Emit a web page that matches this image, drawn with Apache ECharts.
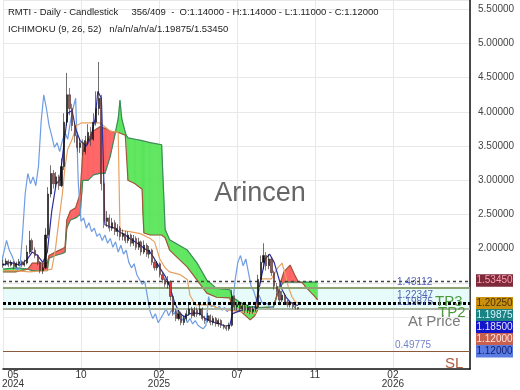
<!DOCTYPE html>
<html>
<head>
<meta charset="utf-8">
<script src="https://cdn.jsdelivr.net/npm/echarts@6.0.0/dist/echarts.min.js"></script>
<style>
html,body{margin:0;padding:0;background:#ffffff;}
#chart{width:520px;height:390px;}
</style>
</head>
<body>
<div id="chart"></div>
<script>
// ================= DATA =================
const SESSION_STEP = 3;   // one candle drawn every 3 sessions
const CHIKOU_SHIFT = 26;  // lagging span shift (sessions)

// [open, close, low, high]
const candles = [
[1.76,1.78,1.72,1.84],[1.78,1.82,1.75,1.86],[1.82,1.76,1.73,1.84],[1.76,1.80,1.74,1.83],
[1.80,1.74,1.70,1.82],[1.74,1.78,1.72,1.81],[1.78,1.81,1.75,1.85],[1.81,1.76,1.73,1.83],
[1.76,1.79,1.74,1.84],[1.79,1.95,1.77,2.05],[1.95,2.12,1.92,2.26],[2.12,1.98,1.94,2.15],
[1.98,1.90,1.86,2.02],[1.90,1.80,1.76,1.92],[1.80,1.68,1.64,1.82],[1.68,1.72,1.63,1.78],
[1.72,2.20,1.70,2.30],[2.20,2.80,2.15,2.90],[2.80,3.10,2.75,3.22],[3.10,2.95,2.88,3.15],
[2.95,3.05,2.90,3.12],[3.05,2.92,2.86,3.08],[2.92,3.20,2.90,3.32],[3.20,3.85,3.15,3.98],
[3.85,4.25,3.80,4.57],[4.25,4.05,3.95,4.35],[4.05,3.80,3.72,4.12],[3.80,3.65,3.55,3.85],
[3.65,3.48,3.42,3.70],[3.48,3.55,3.40,3.62],[3.55,3.42,3.36,3.60],[3.42,3.58,3.38,3.65],
[3.58,3.70,3.52,3.82],[3.70,3.60,3.50,3.78],[3.60,3.85,3.58,3.98],[3.85,4.05,3.80,4.30],
[4.05,4.20,3.95,4.73],[4.20,2.95,2.85,4.25],[2.95,2.40,2.30,3.00],[2.40,2.45,2.32,2.55],
[2.45,2.30,2.25,2.50],[2.30,2.38,2.26,2.45],[2.38,2.25,2.20,2.42],[2.25,2.30,2.18,2.36],
[2.30,2.18,2.12,2.33],[2.18,2.22,2.12,2.28],[2.22,2.12,2.08,2.26],[2.12,2.20,2.08,2.25],
[2.20,2.08,2.03,2.22],[2.08,2.15,2.04,2.20],[2.15,2.02,1.98,2.18],[2.02,2.10,1.98,2.16],
[2.10,1.95,1.90,2.12],[1.95,2.05,1.92,2.12],[2.05,1.92,1.88,2.08],[1.92,1.98,1.86,2.04],
[1.98,1.80,1.76,2.00],[1.80,1.72,1.68,1.84],[1.72,1.78,1.68,1.82],[1.78,1.62,1.58,1.80],
[1.62,1.55,1.50,1.66],[1.55,1.48,1.44,1.58],[1.48,1.52,1.42,1.60],[1.52,1.30,1.24,1.54],
[1.30,1.08,1.02,1.32],[1.08,0.98,0.94,1.12],[0.98,1.05,0.95,1.10],[1.05,0.92,0.88,1.08],
[0.92,0.98,0.88,1.02],[0.98,1.05,0.95,1.10],[1.05,1.12,1.02,1.20],[1.12,1.02,0.98,1.15],
[1.02,1.10,1.00,1.15],[1.10,1.04,1.00,1.14],[1.04,1.12,1.02,1.18],[1.12,0.98,0.95,1.14],
[0.98,0.95,0.90,1.02],[0.95,1.02,0.92,1.06],[1.02,0.92,0.88,1.04],[0.92,0.98,0.88,1.02],
[0.98,0.90,0.86,1.00],[0.90,0.95,0.86,0.98],[0.95,0.88,0.84,0.97],[0.88,0.85,0.82,0.90],
[0.85,0.83,0.80,0.88],[0.83,0.88,0.80,0.92],[0.88,1.30,0.86,1.40],[1.30,1.15,1.10,1.32],
[1.15,1.18,1.10,1.22],[1.18,1.12,1.08,1.20],[1.12,1.16,1.09,1.20],[1.16,1.10,1.06,1.18],
[1.10,1.14,1.06,1.18],[1.14,1.08,1.04,1.16],[1.08,1.12,1.05,1.16],[1.12,1.15,1.08,1.20],
[1.15,1.55,1.12,1.62],[1.55,1.80,1.50,1.90],[1.80,1.90,1.70,2.08],[1.90,1.75,1.68,1.95],
[1.75,1.85,1.70,1.92],[1.85,1.65,1.60,1.88],[1.65,1.45,1.40,1.68],[1.45,1.38,1.32,1.50],
[1.38,1.25,1.20,1.40],[1.25,1.32,1.22,1.38],[1.32,1.22,1.18,1.35],[1.22,1.18,1.14,1.25],
[1.18,1.20,1.14,1.24],[1.20,1.15,1.12,1.22],[1.15,1.14,1.11,1.18],[1.14,1.12,1.11,1.14]
];

// [session, value]
const tenkan = [
[0,1.76],[8,1.80],[19,1.76],[27,1.84],[33,1.95],[39,1.90],[45,1.80],[50,1.95],[55,2.55],[60,2.95],
[64,3.00],[69,3.55],[73,3.98],[78,4.02],[82,3.75],[87,3.58],[94,3.50],[99,3.62],[104,3.90],[107,4.30],
[111,4.20],[113,3.40],[115,2.35],[121,2.32],[126,2.30],[132,2.24],[138,2.20],[143,2.15],[149,2.10],
[155,2.05],[160,2.00],[166,1.95],[171,1.85],[177,1.72],[183,1.60],[188,1.45],[194,1.20],[200,1.05],
[205,1.00],[211,1.05],[217,1.06],[222,1.05],[228,0.98],[233,0.95],[239,0.92],[245,0.90],[250,0.87],
[256,0.88],[259,1.05],[265,1.08],[273,1.12],[279,1.13],[284,1.12],[288,1.35],[291,1.55],[296,1.85],
[301,1.92],[306,1.80],[310,1.62],[315,1.40],[319,1.30],[324,1.22],[329,1.18],[333,1.17]
];

const kijun = [
[0,1.68],[14,1.68],[30,1.66],[47,1.68],[55,1.70],[59,1.98],[63,2.40],[67,2.80],[70,3.20],[73,3.45],
[78,3.60],[83,3.80],[89,3.84],[109,3.84],[121,3.72],[130,3.70],[132,2.27],[143,2.25],[155,2.22],
[166,2.15],[171,2.10],[177,1.85],[183,1.72],[188,1.66],[200,1.62],[208,1.55],[211,1.32],[217,1.18],
[233,1.18],[245,1.12],[267,1.08],[285,1.05],[288,1.45],[292,1.56],[303,1.56],[310,1.72],[315,1.79],
[319,1.60],[322,1.44],[326,1.30],[330,1.22],[333,1.21]
];

const senkouX = [0,14,28,33,50,52,59,67,70,72,76,82,87,90,96,102,109,115,121,126,130,132,134,138,139,141,
149,157,158,159,166,179,183,188,208,219,230,241,256,259,267,279,284,288,305,313,317,324,329,333,338,341,346,352,355];
const senkouA = [1.70,1.72,1.70,1.68,1.68,1.86,1.90,1.93,1.95,2.30,2.42,2.45,2.50,3.00,3.00,3.08,3.10,3.10,3.35,3.65,
3.90,4.17,3.90,3.70,3.66,3.62,3.60,3.58,3.57,3.56,3.55,3.52,2.28,2.13,1.98,1.79,1.54,1.42,1.40,1.29,
1.22,1.15,1.15,1.14,1.15,1.45,1.51,1.51,1.51,1.51,1.51,1.51,1.51,1.51,1.51];
const senkouB = [1.66,1.66,1.70,1.79,1.79,1.90,1.95,2.00,2.02,2.42,2.55,2.60,2.80,3.40,3.60,3.72,3.78,3.76,3.72,3.70,
3.70,3.70,3.68,3.66,3.64,3.00,2.95,2.87,2.50,2.23,2.20,2.20,2.16,1.98,1.73,1.54,1.35,1.29,1.28,1.10,
1.10,0.96,1.02,1.12,1.14,1.50,1.66,1.76,1.62,1.52,1.50,1.45,1.38,1.30,1.25];

const xTickSessions = [0, 88, 176, 264, 352, 440];
const xTickLabels = ['05\n2024', '10', '02\n2025', '07', '11', '02\n2026'];
const yLabelFrom = 2.0;

const levelCurrent = 1.5345;
const levelTP = 1.43112;
const levelMid = 1.22347;
const levelEntry = 1.19875;
const levelAt = 1.12;
const levelSL = 0.49775;
const priceTags = [1.5345, 1.2025, 1.19875, 1.185, 1.12, 1.12];

const titleLine1 = 'RMTI - Daily - Candlestick     356/409  -  O:1.14000 - H:1.14000 - L:1.11000 - C:1.12000';
const titleLine2 = 'ICHIMOKU (9, 26, 52)   n/a/n/a/n/a/1.19875/1.53450';
const watermark = 'Arincen';

// ================= CHART =================
const FONT = '"Liberation Sans", Arial, Helvetica, sans-serif';
const TICK = xTickSessions[1] - xTickSessions[0];
const chart = echarts.init(document.getElementById('chart'), null, {renderer: 'canvas'});

const candleData = candles.map((c, i) => [i * SESSION_STEP, c[0], c[1], c[2], c[3]]);
const chikou = candles.map((c, i) => [i * SESSION_STEP - CHIKOU_SHIFT, c[1]]);
const cloudSegs = [];
for (let i = 0; i < senkouX.length - 1; i++) {
  cloudSegs.push([senkouX[i], senkouA[i], senkouB[i], senkouX[i + 1], senkouA[i + 1], senkouB[i + 1]]);
}
const GREEN = 'rgba(82,228,82,0.9)';
const RED = 'rgba(255,88,88,0.9)';

const option = {
  animation: false,
  backgroundColor: '#ffffff',
  grid: {left: 3, right: 50, top: 0, bottom: 21, containLabel: false, outerBoundsMode: 'none'},
  xAxis: {
    type: 'value', min: 0, max: 527, minInterval: TICK, maxInterval: TICK,
    axisLine: {show: true, onZero: false, lineStyle: {color: '#111', width: 1.5}},
    axisTick: {show: false},
    splitLine: {show: true, lineStyle: {color: '#e8e8e8', width: 1}},
    axisLabel: {
      margin: 2, fontSize: 10, color: '#333', fontFamily: FONT, lineHeight: 8.5,
      formatter: function (v) {
        const idx = xTickSessions.indexOf(Math.round(v));
        if (idx < 0 || Math.abs(v - Math.round(v)) > 1e-6) return '';
        const parts = xTickLabels[idx].split('\n');
        const key = idx === 0 ? 'f' : 'c';
        return parts.map(p => '{' + key + '|' + p + '}').join('\n');
      },
      rich: {
        c: {width: 22, align: 'center', fontSize: 10, color: '#333', fontFamily: FONT, lineHeight: 8.5},
        f: {width: 22, align: 'center', fontSize: 10, color: '#333', fontFamily: FONT, lineHeight: 8.5, padding: [0, 0, 0, 20]}
      }
    }
  },
  yAxis: {
    type: 'value', position: 'right', min: 0.241, max: 5.636, minInterval: 0.5, maxInterval: 0.5,
    axisLine: {show: true, onZero: false, lineStyle: {color: '#111', width: 1.5}},
    axisTick: {show: false},
    splitLine: {show: true, lineStyle: {color: '#e8e8e8', width: 1}},
    axisLabel: {
      margin: 8, fontSize: 10, color: '#444', fontFamily: FONT,
      formatter: function (v) {
        if (v < yLabelFrom - 1e-6) return '';
        if (Math.abs(v * 2 - Math.round(v * 2)) > 1e-6) return '';
        return v.toFixed(5);
      }
    }
  },
  series: [
    {
      name: 'cloud', type: 'custom', z: 1, silent: true,
      encode: {x: [0, 3], y: [1, 2, 4, 5]},
      data: cloudSegs,
      renderItem: function (params, api) {
        const x1 = api.value(0), a1 = api.value(1), b1 = api.value(2);
        const x2 = api.value(3), a2 = api.value(4), b2 = api.value(5);
        const d1 = a1 - b1, d2 = a2 - b2;
        const poly = (pts, col) => ({
          type: 'polygon',
          shape: {points: pts.map(p => api.coord(p))},
          style: {fill: col, stroke: col, lineWidth: 0.6}
        });
        if (d1 * d2 < 0) {
          const t = d1 / (d1 - d2);
          const xc = x1 + t * (x2 - x1), yc = a1 + t * (a2 - a1);
          return {type: 'group', children: [
            poly([[x1, a1], [xc, yc], [x1, b1]], d1 > 0 ? GREEN : RED),
            poly([[xc, yc], [x2, a2], [x2, b2]], d2 > 0 ? GREEN : RED)
          ]};
        }
        return poly([[x1, a1], [x2, a2], [x2, b2], [x1, b1]], (d1 + d2) >= 0 ? GREEN : RED);
      }
    },
    {name: 'senkouA', type: 'line', z: 2, symbol: 'none', silent: true,
     data: senkouX.map((x, i) => [x, senkouA[i]]), lineStyle: {color: '#3d8b5a', width: 1.2}},
    {name: 'senkouB', type: 'line', z: 2, symbol: 'none', silent: true,
     data: senkouX.map((x, i) => [x, senkouB[i]]), lineStyle: {color: '#a0583c', width: 1.2}},
    {name: 'chikou', type: 'line', z: 3, symbol: 'none', silent: true,
     data: chikou, lineStyle: {color: '#6f9de2', width: 1.2}},
    {name: 'kijun', type: 'line', z: 3, symbol: 'none', silent: true,
     data: kijun, lineStyle: {color: '#e8a062', width: 1.2}},
    {name: 'tenkan', type: 'line', z: 4, symbol: 'none', silent: true,
     data: tenkan, lineStyle: {color: '#2f2fa0', width: 1.2}},
    {
      name: 'price', type: 'candlestick', z: 5, silent: true,
      encode: {x: 0, y: [1, 2, 3, 4]},
      data: candleData, barWidth: 1.6,
      itemStyle: {color: '#111', color0: '#e03a3a', borderColor: '#111', borderColor0: '#333', borderWidth: 0.6},
      markArea: {
        silent: true,
        itemStyle: {color: 'rgba(205,246,246,0.45)'},
        data: [[{yAxis: levelAt}, {yAxis: levelTP}]]
      },
      markLine: {
        silent: true, symbol: ['none', 'none'], label: {show: false}, animation: false,
        data: [
          {yAxis: levelCurrent, lineStyle: {color: '#444', width: 1.3, type: [3, 3]}},
          {yAxis: levelTP, lineStyle: {color: '#8ea274', width: 2.2, type: 'solid'}},
          {yAxis: levelAt, lineStyle: {color: '#a9b5a0', width: 2.2, type: 'solid'}},
          {yAxis: levelEntry, lineStyle: {color: '#000', width: 3, type: [3, 2]}},
          {yAxis: levelSL, lineStyle: {color: '#8b5a3c', width: 1.2, type: 'solid'}}
        ]
      }
    }
  ]
};
chart.setOption(option);

// ---------- annotations (positioned from values through the y scale) ----------
const py = v => chart.convertToPixel({yAxisIndex: 0}, v);
const g = [];
function txt(text, x, y, size, color, align) {
  g.push({type: 'text', z: 100, x: x, y: y, silent: true,
    style: {text: text, fill: color, font: size + 'px ' + FONT,
      textAlign: align || 'left', align: align || 'left',
      textVerticalAlign: 'middle', verticalAlign: 'middle'}});
}
txt(titleLine1, 8, 12, 9.5, '#222');
txt(titleLine2, 8, 29.5, 9.5, '#222');
g.push({type: 'text', z: 0, x: 260, y: 194, silent: true,
  style: {text: watermark, fill: '#666', font: '27px ' + FONT, textAlign: 'center', align: 'center',
    textVerticalAlign: 'middle', verticalAlign: 'middle'}});

txt(levelTP.toFixed(5), 397, py(levelTP) - 5.5, 10, '#5565b5');
txt(levelMid.toFixed(5), 397, py(levelMid) - 7, 10, '#5565b5');
txt(levelEntry.toFixed(5), 397, py(levelEntry) - 1.5, 10, '#5565b5');
txt('TP3', 435, py(levelEntry) - 1.5, 15, '#4c9a3c');
txt('TP2', 438, py(levelAt) + 3.5, 15, '#4c9a3c');
txt('At Price', 408, py(levelAt) + 12.5, 15, '#7a7a7a');
txt(levelSL.toFixed(5), 395, py(levelSL) - 6, 10, '#7282c8');
txt('SL', 445, py(levelSL) + 12, 15, '#b05a40');

// stacked price tags on the right axis
const tagStyles = [
  {bg: '#7d2a3a', fg: '#ff9db0'},
  {bg: '#c8900e', fg: '#4a3000'},
  {bg: '#1a8282', fg: '#d8f4ff'},
  {bg: '#1414c8', fg: '#e4e4ff'},
  {bg: '#c8604e', fg: '#ffe4e4'},
  {bg: '#5a7ce2', fg: '#102070'}
];
let prevY = -1e9;
priceTags.forEach((v, i) => {
  const y = Math.max(py(v), prevY + 12);
  prevY = y;
  g.push({type: 'rect', z: 100, silent: true, shape: {x: 476, y: y - 6.2, width: 37, height: 12.4},
    style: {fill: tagStyles[i].bg}});
  g.push({type: 'text', z: 101, silent: true, x: 494.5, y: y,
    style: {text: v.toFixed(5), fill: tagStyles[i].fg, font: '10px ' + FONT,
      textAlign: 'center', align: 'center', textVerticalAlign: 'middle', verticalAlign: 'middle'}});
});
chart.setOption({graphic: {elements: g}});
</script>
</body>
</html>
